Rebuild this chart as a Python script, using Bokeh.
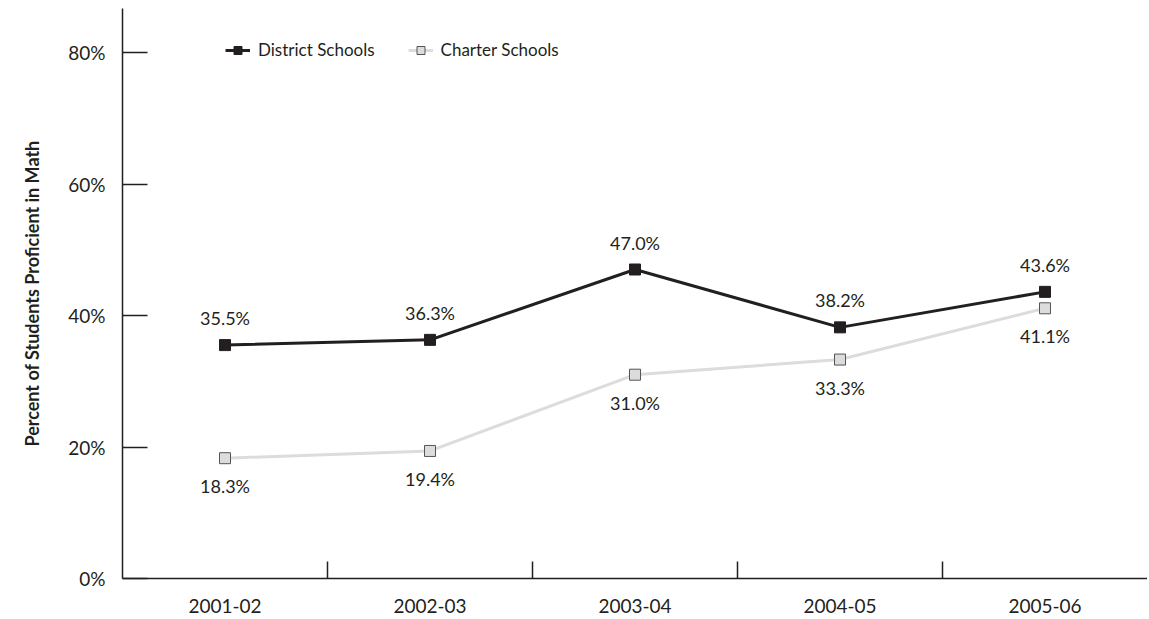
from bokeh.plotting import figure
from bokeh.models import FixedTicker, Range1d, Legend, LegendItem
from bokeh.core.properties import value
from bokeh.embed import file_html
from bokeh.resources import INLINE

years = ["2001-02", "2002-03", "2003-04", "2004-05", "2005-06"]
district = [35.5, 36.3, 47.0, 38.2, 43.6]
charter = [18.3, 19.4, 31.0, 33.3, 41.1]
y_ticks = [0, 20, 40, 60, 80]

FONT = "Lato"
INK = "#231f20"

xs = list(range(len(years)))

p = figure(frame_width=1025, frame_height=570, output_backend="svg",
           toolbar_location=None, x_range=Range1d(-0.5, len(years) - 0.5),
           y_range=Range1d(0, 86.7), min_border_left=122, min_border_right=0,
           min_border_top=8, min_border_bottom=5)
p.outline_line_color = None
p.xgrid.grid_line_color = None
p.ygrid.grid_line_color = None
p.background_fill_color = "white"
p.border_fill_color = "white"

# x axis
p.xaxis.ticker = FixedTicker(ticks=xs, minor_ticks=[i + 0.5 for i in xs[:-1]])
p.xaxis.major_label_overrides = {i: y for i, y in enumerate(years)}
p.xaxis.major_tick_line_color = None
p.xaxis.minor_tick_in = 17
p.xaxis.minor_tick_out = 0
p.xaxis.minor_tick_line_color = INK
p.xaxis.minor_tick_line_width = 1.5
p.xaxis.axis_line_color = INK
p.xaxis.axis_line_width = 1.5
p.xaxis.major_label_text_font = FONT
p.xaxis.major_label_text_font_size = "19px"
p.xaxis.major_label_text_color = INK
p.xaxis.major_label_standoff = 14

# y axis
p.yaxis.ticker = FixedTicker(ticks=y_ticks)
p.yaxis.major_label_overrides = {t: f"{t}%" for t in y_ticks}
p.yaxis.major_tick_in = 25
p.yaxis.major_tick_out = 0
p.yaxis.major_tick_line_color = INK
p.yaxis.major_tick_line_width = 1.5
p.yaxis.minor_tick_line_color = None
p.yaxis.axis_line_color = INK
p.yaxis.axis_line_width = 1.5
p.yaxis.major_label_text_font = FONT
p.yaxis.major_label_text_font_size = "19px"
p.yaxis.major_label_text_color = INK
p.yaxis.major_label_text_baseline = "top"
p.yaxis.major_label_standoff = 17
p.yaxis.axis_label = "Percent of Students Proficient in Math"
p.yaxis.axis_label_text_font = FONT
p.yaxis.axis_label_text_font_style = "bold"
p.yaxis.axis_label_text_font_size = "18px"
p.yaxis.axis_label_text_color = INK
p.yaxis.axis_label_standoff = 22

# series
cl = p.line(xs, charter, line_color="#dcdcdc", line_width=3)
cs = p.scatter(xs, charter, marker="square", size=11, fill_color="#dcdcdc",
               line_color="#555555", line_width=1)
dl = p.line(xs, district, line_color=INK, line_width=3)
ds = p.scatter(xs, district, marker="square", size=11, fill_color=INK,
               line_color=INK, line_width=1)

p.text(xs, district, text=[f"{v:.1f}%" for v in district], text_align="center",
       text_baseline="middle", y_offset=-27, text_font=value(FONT),
       text_font_size="18px", text_color=INK)
p.text(xs, charter, text=[f"{v:.1f}%" for v in charter], text_align="center",
       text_baseline="middle", y_offset=28, text_font=value(FONT),
       text_font_size="18px", text_color=INK)

legend = Legend(items=[LegendItem(label="District Schools", renderers=[dl, ds]),
                       LegendItem(label="Charter Schools", renderers=[cl, cs])],
                location=(103, 518), orientation="horizontal", padding=0,
                margin=0, spacing=33, glyph_width=25, glyph_height=20,
                label_height=20, label_standoff=8, border_line_color=None,
                background_fill_alpha=0, label_text_font=FONT,
                label_text_font_size="17px", label_text_color=INK)
p.add_layout(legend)

open("out.html", "w").write(file_html(p, INLINE))
